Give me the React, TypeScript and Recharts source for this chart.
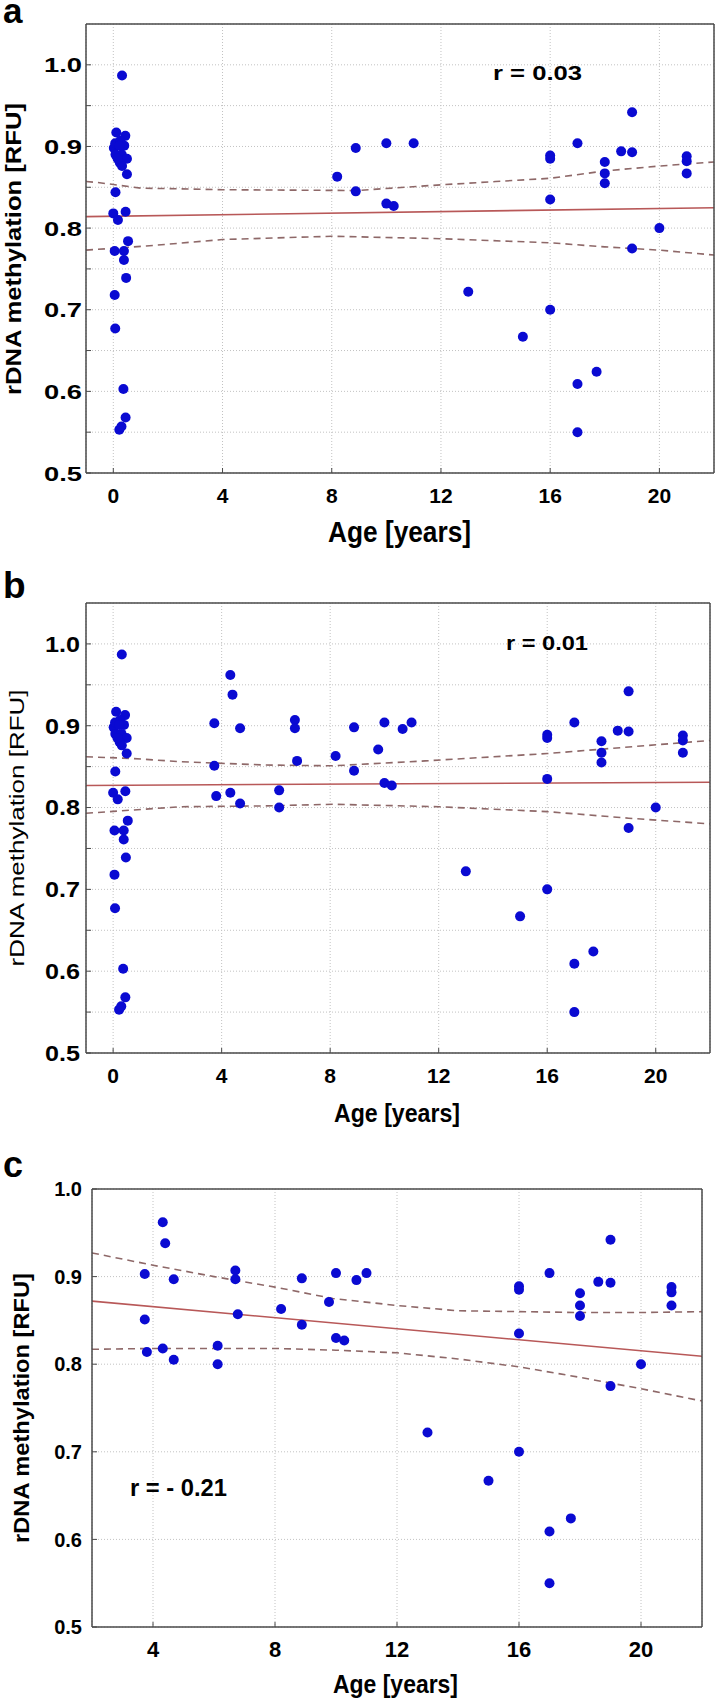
import React from 'react';
import { ComposedChart, Scatter, Line, XAxis, YAxis, CartesianGrid } from 'recharts';

const FONT = "'Liberation Sans', Arial, Helvetica, sans-serif";
const DOT = '#0a0ad2';
const FIT = '#b85858';
const BAND = '#8e6868';
const FRAME = '#4a4a4a';
const GRID = '#c2c2c2';

// ---- data: infants (panels a, b)
const infantAges = [0.32, 0.11, 0.44, 0.02, 0.07, 0.26, 0.40, 0.22, 0.08, 0.31, 0.50, 0.24, 0.32, 0.50, 0.16, 0.08, 0.00, 0.17, 0.45, 0.05, 0.39, 0.54, 0.39, 0.47, 0.05, 0.07, 0.37, 0.45, 0.22, 0.30];
const infantValues = [0.987, 0.917, 0.913, 0.898, 0.904, 0.907, 0.901, 0.901, 0.890, 0.890, 0.885, 0.880, 0.876, 0.866, 0.885, 0.844, 0.818, 0.810, 0.820, 0.772, 0.772, 0.784, 0.761, 0.739, 0.718, 0.677, 0.603, 0.568, 0.553, 0.557];

// ---- data: children 3-11 y (panels b, c)
const childAges = [3.73, 3.73, 3.80, 4.32, 4.40, 4.32, 4.68, 4.68, 6.12, 6.12, 6.70, 6.70, 6.78, 9.77, 10.67];
const childValues = [0.903, 0.851, 0.814, 0.962, 0.938, 0.818, 0.897, 0.805, 0.821, 0.800, 0.907, 0.897, 0.857, 0.871, 0.896];

// ---- data: older (all panels)
const olderAges = [8.20, 8.88, 8.88, 10.00, 11.00, 10.00, 10.27, 13.00, 15.00, 16.00, 16.00, 16.00, 16.00, 17.00, 17.00, 17.00, 17.70, 18.00, 18.00, 18.00, 18.60, 19.00, 19.00, 19.00, 20.00, 21.00, 21.00, 21.00];
const olderValues = [0.863, 0.898, 0.845, 0.904, 0.904, 0.830, 0.827, 0.722, 0.667, 0.700, 0.889, 0.885, 0.835, 0.904, 0.609, 0.550, 0.624, 0.881, 0.867, 0.855, 0.894, 0.893, 0.942, 0.775, 0.800, 0.888, 0.882, 0.867];

// ---- regression lines and confidence bands
const fitAAges = [-1, 22];
const fitAValues = [0.814, 0.825];
const upAAges = [-1, -0.6, 1, 4, 8.9, 12, 14, 16, 18, 20, 22];
const upAValues = [0.857, 0.856, 0.849, 0.847, 0.846, 0.853, 0.857, 0.861, 0.870, 0.876, 0.881];
const loAAges = [-1, 1.2, 4, 8, 12, 16, 18, 20, 22];
const loAValues = [0.773, 0.778, 0.786, 0.790, 0.787, 0.782, 0.777, 0.773, 0.767];

const fitBAges = [-1, 22];
const fitBValues = [0.827, 0.831];
const upBAges = [-1, 0.7, 2.5, 5.6, 8.1, 11.5, 16, 19, 22];
const upBValues = [0.862, 0.860, 0.856, 0.852, 0.851, 0.857, 0.866, 0.874, 0.882];
const loBAges = [-1, 2.5, 5.6, 8.1, 12, 16, 19, 22];
const loBValues = [0.793, 0.801, 0.802, 0.804, 0.801, 0.795, 0.787, 0.780];

const fitCAges = [2, 22];
const fitCValues = [0.872, 0.809];
const upCAges = [2, 4, 6, 8, 9.9, 12, 14, 16, 18, 20, 22];
const upCValues = [0.927, 0.913, 0.900, 0.888, 0.875, 0.867, 0.861, 0.860, 0.859, 0.859, 0.860];
const loCAges = [2, 4, 8, 10, 12, 14, 16, 18, 20, 22];
const loCValues = [0.817, 0.818, 0.818, 0.816, 0.813, 0.806, 0.797, 0.785, 0.772, 0.758];

// ---- ticks
const xTicksAB = [0, 4, 8, 12, 16, 20];
const xTicksC = [4, 8, 12, 16, 20];
const yearTicks = [0, 1, 2, 3, 4, 5, 6, 7, 8, 9, 10, 11, 12, 13, 14, 15, 16, 17, 18, 19, 20, 21];
const yTicksAB = [0.5, 0.55, 0.6, 0.65, 0.7, 0.75, 0.8, 0.85, 0.9, 0.95, 1.0];
const yTicksC = [0.5, 0.6, 0.7, 0.8, 0.9, 1.0];

type Pt = { age: number; v: number };
const zip = (a: number[], b: number[]): Pt[] => a.map((age, i) => ({ age, v: b[i] }));

const pointsA = [...zip(infantAges, infantValues), ...zip(olderAges, olderValues)];
const pointsB = [...zip(infantAges, infantValues), ...zip(childAges, childValues), ...zip(olderAges, olderValues)];
const pointsC = [...zip(childAges, childValues), ...zip(olderAges, olderValues)];

const dotShape = (p: any) => <circle cx={p.cx} cy={p.cy} r={5} fill={DOT} />;

type PanelProps = {
  top: number;
  height: number;
  margin: { top: number; right: number; bottom: number; left: number };
  xDomain: [number, number];
  yDomain: [number, number];
  xTicks: number[];
  yTicks: number[];
  topTicks: number[];
  rightTicks: number[];
  points: Pt[];
  fit: Pt[];
  upper: Pt[];
  lower: Pt[];
  yTickFont: number;
  yTickLen?: number;
  yTickMargin: number;
  xTickFont: number;
  xTickOffset: number;
};

function Panel(props: PanelProps) {
  const {
    top, height, margin, xDomain, yDomain, xTicks, yTicks, topTicks, rightTicks,
    points, fit, upper, lower, yTickFont, yTickLen, yTickMargin, xTickFont, xTickOffset,
  } = props;
  const renderXTick = (p: any) => (
    <text x={p.x} y={p.y + xTickOffset} textAnchor="middle" fontSize={xTickFont} fontWeight="bold" fontFamily={FONT} fill="#000">
      {p.payload.value}
    </text>
  );
  const renderYTick = (p: any) => {
    const v = p.payload.value as number;
    if (Math.abs(v * 10 - Math.round(v * 10)) > 1e-6) return <g />;
    return (
      <text x={p.x} y={p.y + yTickFont * 0.36} textAnchor="end" fontSize={yTickFont} fontWeight="bold" fontFamily={FONT} fill="#000"
        textLength={yTickLen} lengthAdjust={yTickLen ? 'spacingAndGlyphs' : undefined}>
        {v.toFixed(1)}
      </text>
    );
  };
  const axisLine = { stroke: FRAME, strokeWidth: 1.5 };
  const tickLine = { stroke: FRAME, strokeWidth: 1 };
  return (
    <div style={{ position: 'absolute', left: 0, top, width: 718, height }}>
      <ComposedChart width={718} height={height} margin={margin}>
        <CartesianGrid stroke={GRID} strokeDasharray="1 2" />
        <XAxis xAxisId={0} dataKey="age" type="number" domain={xDomain} ticks={xTicks} interval={0} allowDataOverflow
          height={60} tickSize={-5} tickMargin={5} axisLine={axisLine} tickLine={tickLine} tick={renderXTick} />
        <XAxis xAxisId="t" orientation="top" dataKey="age" type="number" domain={xDomain} ticks={topTicks} interval={0} allowDataOverflow
          height={1} tickSize={-5} axisLine={axisLine} tickLine={tickLine} tick={false} />
        <YAxis yAxisId={0} dataKey="v" type="number" domain={yDomain} ticks={yTicks} interval={0} allowDataOverflow
          width={80} tickSize={-5} tickMargin={yTickMargin} axisLine={axisLine} tickLine={tickLine} tick={renderYTick} />
        <YAxis yAxisId="r" orientation="right" dataKey="v" type="number" domain={yDomain} ticks={rightTicks} interval={0} allowDataOverflow
          width={1} tickSize={-5} axisLine={axisLine} tickLine={tickLine} tick={false} />
        <Scatter data={points} dataKey="v" shape={dotShape} isAnimationActive={false} />
        <Line data={upper} dataKey="v" type="linear" stroke={BAND} strokeWidth={1.6} strokeDasharray="7 5" dot={false} activeDot={false} isAnimationActive={false} />
        <Line data={lower} dataKey="v" type="linear" stroke={BAND} strokeWidth={1.6} strokeDasharray="7 5" dot={false} activeDot={false} isAnimationActive={false} />
        <Line data={fit} dataKey="v" type="linear" stroke={FIT} strokeWidth={1.6} dot={false} activeDot={false} isAnimationActive={false} />
      </ComposedChart>
    </div>
  );
}

const txt = { fontFamily: FONT, fill: '#000' } as const;

export default function App() {
  return (
    <div style={{ position: 'absolute', left: 0, top: 0, width: 718, height: 1698, background: '#fff', overflow: 'hidden' }}>
      <Panel
        top={0} height={580}
        margin={{ top: 23, right: 3, bottom: 47, left: 6 }}
        xDomain={[-1, 22]} yDomain={[0.5, 1.05]}
        xTicks={xTicksAB} yTicks={yTicksAB} topTicks={yearTicks} rightTicks={yTicksAB}
        points={pointsA} fit={zip(fitAAges, fitAValues)} upper={zip(upAAges, upAValues)} lower={zip(loAAges, loAValues)}
        yTickFont={21} yTickLen={38} yTickMargin={9} xTickFont={21} xTickOffset={30}
      />
      <Panel
        top={560} height={580}
        margin={{ top: 42, right: 7, bottom: 27, left: 6 }}
        xDomain={[-1, 22]} yDomain={[0.5, 1.05]}
        xTicks={xTicksAB} yTicks={yTicksAB} topTicks={yearTicks} rightTicks={yTicksAB}
        points={pointsB} fit={zip(fitBAges, fitBValues)} upper={zip(upBAges, upBValues)} lower={zip(loBAges, loBValues)}
        yTickFont={22} yTickLen={35} yTickMargin={11} xTickFont={21} xTickOffset={30}
      />
      <Panel
        top={1140} height={558}
        margin={{ top: 48, right: 15, bottom: 11, left: 12 }}
        xDomain={[2, 22]} yDomain={[0.5, 1.0]}
        xTicks={xTicksC} yTicks={yTicksC} topTicks={xTicksC} rightTicks={yTicksC}
        points={pointsC} fit={zip(fitCAges, fitCValues)} upper={zip(upCAges, upCValues)} lower={zip(loCAges, loCValues)}
        yTickFont={20} yTickMargin={15} xTickFont={22} xTickOffset={30}
      />
      <svg width={718} height={1698} style={{ position: 'absolute', left: 0, top: 0, pointerEvents: 'none' }}>
        <text x={3} y={23} fontSize={35} fontWeight="bold" {...txt}>a</text>
        <text x={3} y={598} fontSize={37} fontWeight="bold" {...txt}>b</text>
        <text x={3} y={1177} fontSize={36} fontWeight="bold" {...txt}>c</text>

        <text x={493} y={80} fontSize={21} fontWeight="bold" textLength={89} lengthAdjust="spacingAndGlyphs" {...txt}>r = 0.03</text>
        <text x={506} y={650} fontSize={21} fontWeight="bold" textLength={82} lengthAdjust="spacingAndGlyphs" {...txt}>r = 0.01</text>
        <text x={130} y={1496} fontSize={23} fontWeight="bold" textLength={97} lengthAdjust="spacingAndGlyphs" {...txt}>r = - 0.21</text>

        <text x={328} y={542} fontSize={29} fontWeight="bold" textLength={143} lengthAdjust="spacingAndGlyphs" {...txt}>Age [years]</text>
        <text x={334} y={1122} fontSize={26} fontWeight="bold" textLength={126} lengthAdjust="spacingAndGlyphs" {...txt}>Age [years]</text>
        <text x={333} y={1693} fontSize={26} fontWeight="bold" textLength={125} lengthAdjust="spacingAndGlyphs" {...txt}>Age [years]</text>

        <text transform="translate(21,249) rotate(-90)" textAnchor="middle" fontSize={22} fontWeight="bold" textLength={292} lengthAdjust="spacingAndGlyphs" {...txt}>rDNA methylation [RFU]</text>
        <text transform="translate(24,828) rotate(-90)" textAnchor="middle" fontSize={21} textLength={277} lengthAdjust="spacingAndGlyphs" {...txt}>rDNA methylation [RFU]</text>
        <text transform="translate(29,1408) rotate(-90)" textAnchor="middle" fontSize={22} fontWeight="bold" textLength={270} lengthAdjust="spacingAndGlyphs" {...txt}>rDNA methylation [RFU]</text>
      </svg>
    </div>
  );
}
